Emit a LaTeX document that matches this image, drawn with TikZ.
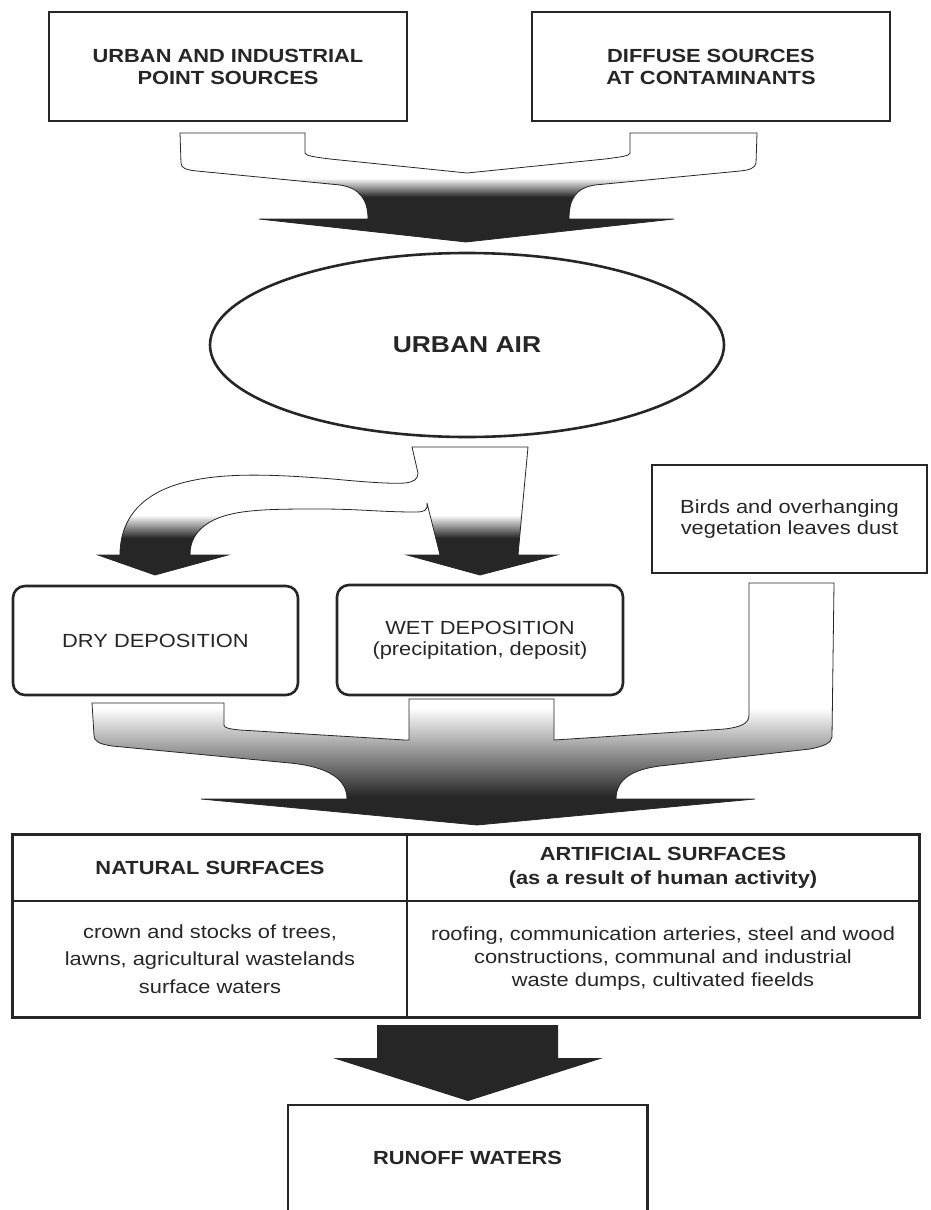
\documentclass[tikz,border=0pt]{standalone}
\usepackage{fontspec}
\setmainfont{Liberation Sans}[FakeStretch=1.15]
\usetikzlibrary{shapes.geometric}
\definecolor{cInk}{HTML}{262626}
\tikzset{
  srcbox/.style={draw=cInk,line width=2.6pt,minimum height=109pt,align=center,inner sep=0pt,text=cInk,font=\bfseries\fontsize{19}{22}\selectfont},
  depbox/.style={srcbox,rounded corners=12pt,font=\fontsize{19}{21}\selectfont},
  cell/.style={draw=cInk,line width=1.2pt,align=center,inner sep=0pt,text=cInk},
  % fat arrow: white on top, shaded band #1..#2, solid below
  fat/.style 2 args={draw=cInk,line width=0.8pt,
    path picture={\fill[cInk] (0,#2-0.5) rectangle (930,1210);
      \shade[top color=white,bottom color=cInk] (0,#1) rectangle (930,#2);}},
}
\begin{document}
\begin{tikzpicture}[x=1pt,y=-1pt]
  \useasboundingbox (0,0) rectangle (930,1210);
  % sources
  \node[srcbox,minimum width=358pt] (pointsrc) at (228,66.5) {URBAN AND INDUSTRIAL\\POINT SOURCES};
  \node[srcbox,minimum width=358pt] (diffsrc) at (711,66.5) {DIFFUSE SOURCES\\AT CONTAMINANTS};
  % merge into the air
  \draw[fat={178}{197}] (180,133) -- (305,133) -- (305,153) .. controls (306,156) and (315,157) .. (330,159)
    -- (467,173) -- (605,159) .. controls (620,157) and (630,156) .. (630,153) -- (630,133) -- (757,133)
    -- (756,163) .. controls (755,168) and (750,170) .. (740,171) -- (595,185)
    .. controls (575,188) and (569,200) .. (569,219) -- (674,219) -- (466,242) -- (259,219) -- (368,219)
    .. controls (368,200) and (360,188) .. (340,185) -- (197,171) .. controls (186,170) and (181,168) .. (181,163) -- cycle;
  \node[ellipse,draw=cInk,line width=2.6pt,minimum width=514pt,minimum height=184pt,inner sep=0pt,text=cInk,
    font=\bfseries\fontsize{23}{26}\selectfont] (air) at (467,345) {URBAN AIR};
  % split: dry and wet
  \draw[fat={515}{538}] (412,447) -- (528,447) -- (518,555) -- (557,555) -- (480,575) -- (407,555) -- (440,555)
    -- (427,503) .. controls (428,511) and (424,512) .. (415,512) .. controls (380,512) and (360,509) .. (320,509)
    .. controls (270,509) and (232,509) .. (210,522) .. controls (195,531) and (190,542) .. (190,555)
    -- (228,555) -- (155,575) -- (98,555) -- (120,555)
    .. controls (120,520) and (140,492) .. (190,481) .. controls (230,472) and (280,475) .. (333,479)
    .. controls (365,482) and (390,484) .. (405,483) .. controls (414,482) and (418,479) .. (418,473) -- cycle;
  \node[srcbox,font=\fontsize{19}{21}\selectfont,minimum width=275pt,minimum height=108pt] (birds) at (789.5,519)
    {Birds and overhanging\\vegetation leaves dust};
  \node[depbox,minimum width=285pt] (dry) at (155.5,640.5) {DRY DEPOSITION};
  \node[depbox,minimum width=286pt,minimum height=110pt] (wet) at (480,640) {WET DEPOSITION\\(precipitation, deposit)};
  % three streams onto the surfaces
  \draw[fat={708}{797}] (92,703) -- (224,703) -- (224,725) .. controls (224,728) and (230,729) .. (240,730)
    -- (405,740) -- (409,740) -- (409,699) -- (554,699) -- (554,740) -- (725,729)
    .. controls (740,727) and (749,724) .. (749,715) -- (749,583) -- (834,583)
    -- (832,737) .. controls (831,743) and (825,746) .. (810,749) -- (660,766)
    .. controls (628,770) and (616,782) .. (616,799) -- (755,799) -- (477,825) -- (201,799) -- (347,799)
    .. controls (347,780) and (330,767) .. (290,763) -- (112,746) .. controls (100,744) and (94,742) .. (94,735) -- cycle;
  % surfaces table
  \node[cell,minimum width=394pt,minimum height=66pt,font=\bfseries\fontsize{19}{24}\selectfont] (nathead) at (210,868) {NATURAL SURFACES};
  \node[cell,minimum width=512pt,minimum height=66pt,font=\bfseries\fontsize{19}{24}\selectfont] (arthead) at (663,868)
    {ARTIFICIAL SURFACES\\(as a result of human activity)};
  \node[cell,minimum width=394pt,minimum height=116pt,font=\fontsize{19}{27.5}\selectfont] (natbody) at (210,959)
    {crown and stocks of trees,\\lawns, agricultural wastelands\\surface waters};
  \node[cell,minimum width=512pt,minimum height=116pt,font=\fontsize{19}{23}\selectfont] (artbody) at (663,959)
    {roofing, communication arteries, steel and wood\\constructions, communal and industrial\\waste dumps, cultivated fieelds};
  \draw[cInk,line width=2.6pt] (nathead.north west) rectangle (artbody.south east);
  % down to runoff
  \fill[cInk] (377,1025) -- (558,1025) -- (558,1058) -- (603,1058) -- (468,1101) -- (333,1058) -- (377,1058) -- cycle;
  \node[font=\bfseries\fontsize{19}{22}\selectfont,text=cInk,minimum width=359pt,minimum height=105pt,inner sep=0pt] (runoff) at (467.5,1157.5) {RUNOFF WATERS};
  \draw[cInk,line width=2.6pt] (runoff.south west) -- (runoff.north west) -- (runoff.north east) -- (runoff.south east);
\end{tikzpicture}
\end{document}
